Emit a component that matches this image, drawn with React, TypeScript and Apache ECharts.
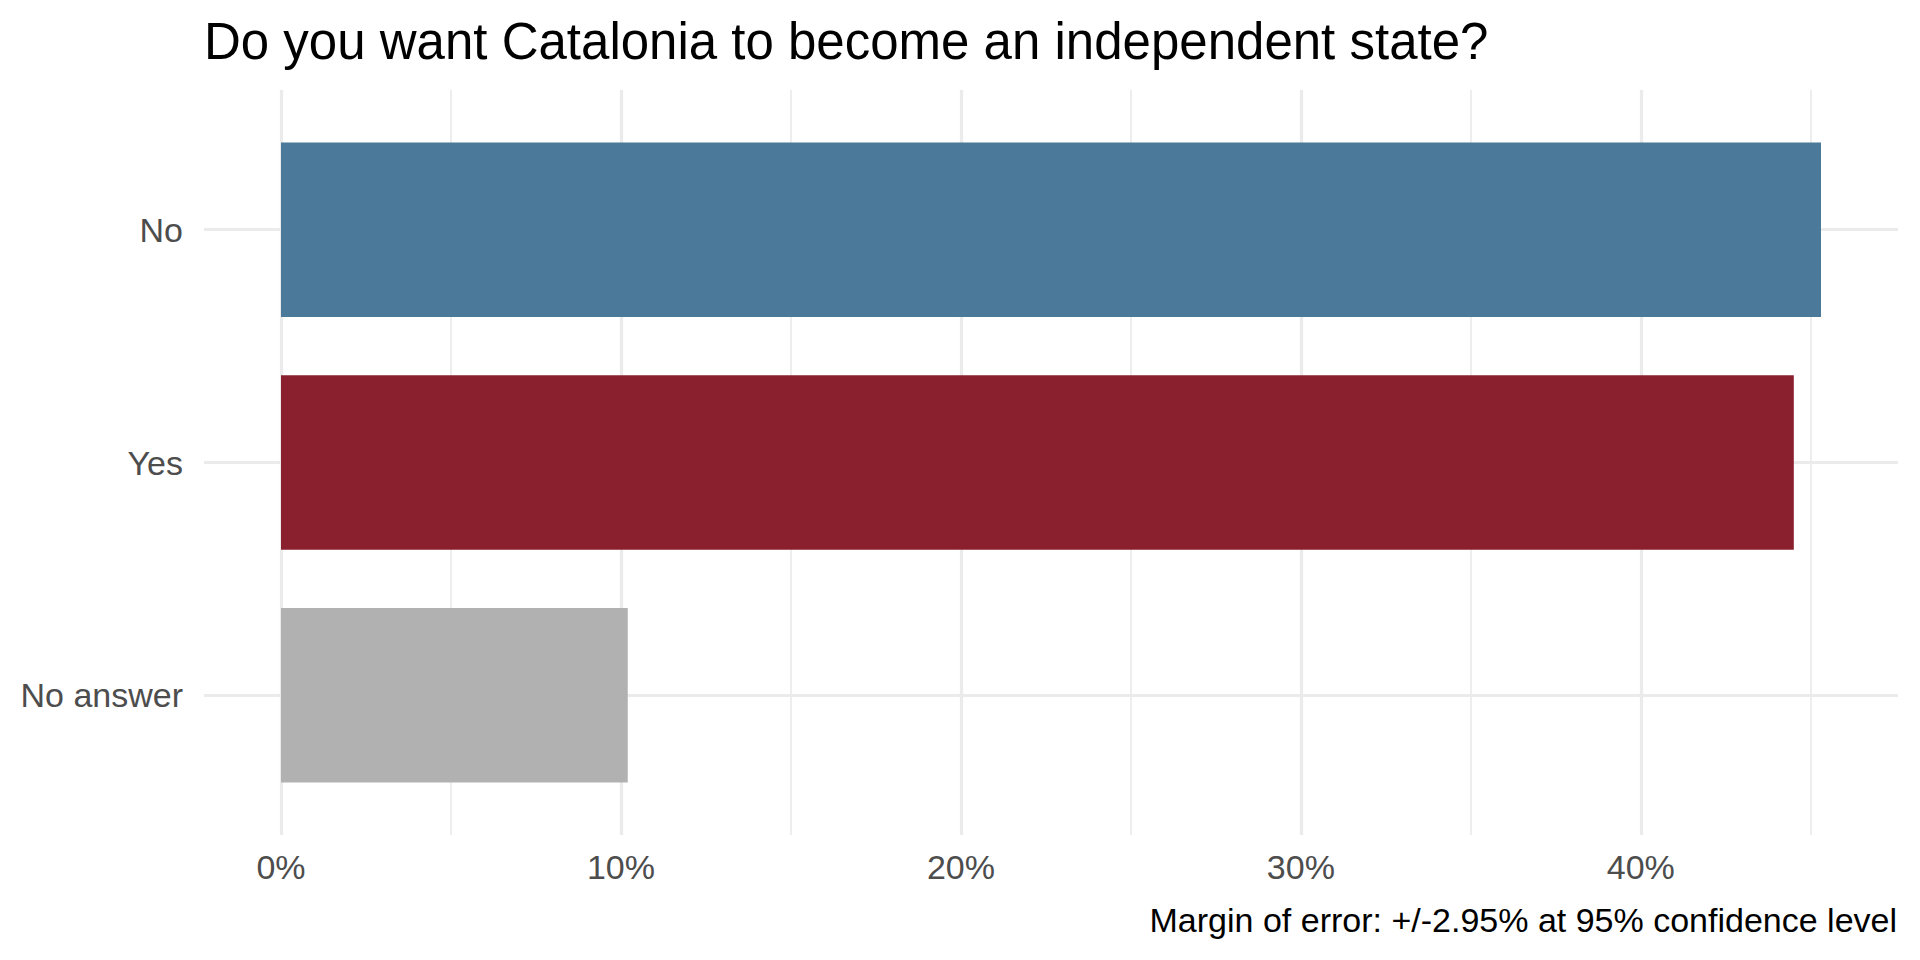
import React, { useEffect, useRef } from "react";
import * as echarts from "echarts";

const categories = ["No", "Yes", "No answer"];
const values = [45.3, 44.5, 10.2];
const barColors = ["#4B7999", "#8A1F2D", "#B1B1B1"];
const majorTickStep = 10;
const majorTickMax = 40;
const minorTickStep = 5;
const minorTickMax = 45;

const titleText = "Do you want Catalonia to become an independent state?";
const captionText = "Margin of error: +/-2.95% at 95% confidence level";

const FONT = "'Liberation Sans', Arial, Helvetica, sans-serif";
const GRID_COLOR = "#EBEBEB";

export default function App() {
  const ref = useRef<HTMLDivElement>(null);

  useEffect(() => {
    document.body.style.margin = "0";
    document.body.style.overflow = "hidden";
    if (!ref.current) return;
    const chart = echarts.init(ref.current, undefined, { renderer: "svg" });

    // panel layout (pixels)
    const panelTop = 90;
    const panelBottom = 835;
    const panelLeft = 204;
    const panelRight = 1898;
    const panelWidth = panelRight - panelLeft;
    // ggplot-like 5% expansion of the continuous scale
    const dataMax = Math.max(...values);
    const xMin = -0.05 * dataMax;
    const xMax = 1.05 * dataMax;
    const pxPerUnit = panelWidth / (xMax - xMin);
    const zeroX = panelLeft - xMin * pxPerUnit;
    // discrete scale expansion 0.6 of a band on each side
    const nCat = categories.length;
    const band = (panelBottom - panelTop) / (nCat - 1 + 1.2);
    const barTop = panelTop + 0.1 * band;
    const barBottom = panelBottom - 0.1 * band;
    const firstCenter = panelTop + 0.6 * band;

    const axisText = {
      fontFamily: FONT,
      fontSize: 34,
      color: "#4D4D4D",
    };

    const option: any = {
      animation: false,
      backgroundColor: "#ffffff",
      title: [
        {
          text: titleText,
          left: panelLeft,
          top: 16,
          padding: 0,
          textStyle: {
            fontFamily: FONT,
            fontSize: 51,
            fontWeight: "normal",
            color: "#000000",
          },
        },
        {
          text: captionText,
          right: 1920 - 1897,
          top: 903,
          padding: 0,
          textStyle: {
            fontFamily: FONT,
            fontSize: 34,
            fontWeight: "normal",
            color: "#000000",
          },
        },
      ],
      grid: [
        // minor vertical grid lines
        {
          left: zeroX,
          top: panelTop,
          width: minorTickMax * pxPerUnit,
          height: panelBottom - panelTop,
          containLabel: false,
        },
        // major vertical grid lines + labels
        {
          left: zeroX,
          top: panelTop,
          width: majorTickMax * pxPerUnit,
          height: panelBottom - panelTop,
          containLabel: false,
        },
        // horizontal grid lines at category centres
        {
          left: panelLeft,
          top: firstCenter,
          width: panelWidth,
          height: (nCat - 1) * band,
          containLabel: false,
        },
        // bars + category axis
        {
          left: panelLeft,
          top: barTop,
          width: panelWidth,
          height: barBottom - barTop,
          containLabel: false,
        },
      ],
      xAxis: [
        {
          gridIndex: 0,
          type: "value",
          min: 0,
          max: minorTickMax,
          interval: minorTickStep,
          axisLine: { show: false },
          axisTick: { show: false },
          axisLabel: { show: false },
          splitLine: { show: true, lineStyle: { color: GRID_COLOR, width: 1.7 } },
        },
        {
          gridIndex: 1,
          type: "value",
          min: 0,
          max: majorTickMax,
          interval: majorTickStep,
          axisLine: { show: false },
          axisTick: { show: false },
          splitLine: { show: true, lineStyle: { color: GRID_COLOR, width: 3.2 } },
          axisLabel: {
            show: true,
            margin: 15,
            ...axisText,
            formatter: (v: number) => `${v}%`,
          },
        },
        {
          gridIndex: 2,
          type: "value",
          show: false,
          splitLine: { show: false },
        },
        {
          gridIndex: 3,
          type: "value",
          min: xMin,
          max: xMax,
          show: false,
          splitLine: { show: false },
        },
      ],
      yAxis: [
        { gridIndex: 0, type: "value", show: false, splitLine: { show: false } },
        { gridIndex: 1, type: "value", show: false, splitLine: { show: false } },
        {
          gridIndex: 2,
          type: "value",
          min: 0,
          max: nCat - 1,
          interval: 1,
          inverse: true,
          axisLine: { show: false },
          axisTick: { show: false },
          axisLabel: { show: false },
          splitLine: { show: true, lineStyle: { color: GRID_COLOR, width: 3.2 } },
        },
        {
          gridIndex: 3,
          type: "category",
          data: categories,
          inverse: true,
          axisLine: { show: false },
          axisTick: { show: false },
          splitLine: { show: false },
          axisLabel: {
            margin: 21,
            ...axisText,
          },
        },
      ],
      series: [
        {
          type: "bar",
          xAxisIndex: 3,
          yAxisIndex: 3,
          barWidth: "75%",
          z: 3,
          data: values.map((v, i) => ({
            value: v,
            itemStyle: { color: barColors[i] },
          })),
        },
      ],
    };

    chart.setOption(option);
    return () => {
      chart.dispose();
    };
  }, []);

  return <div ref={ref} style={{ width: 1920, height: 960 }} />;
}
